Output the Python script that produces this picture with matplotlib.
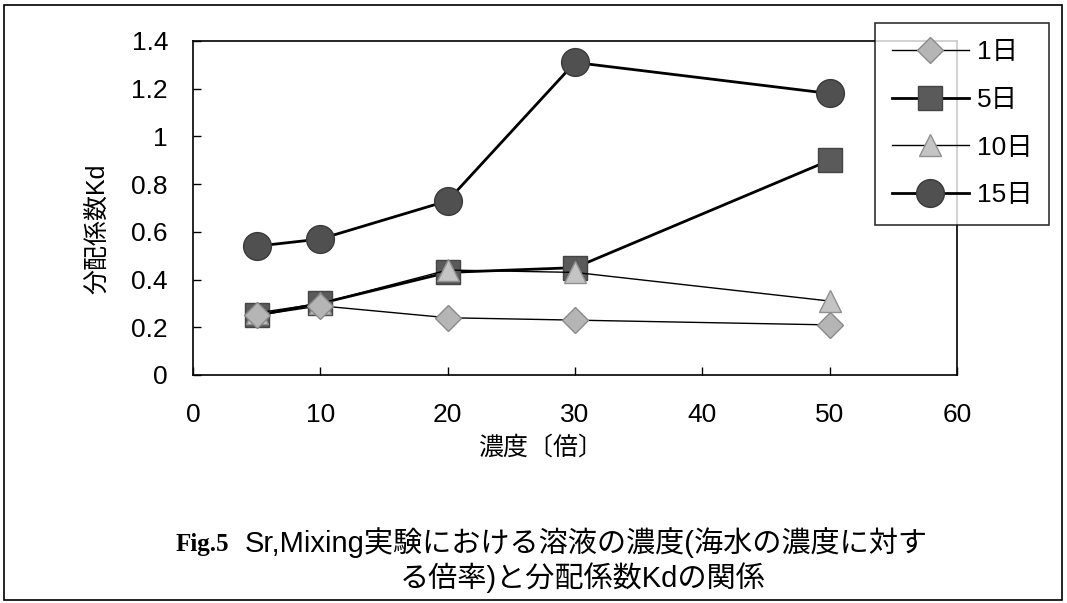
import matplotlib.pyplot as plt
from matplotlib.patches import Rectangle

plt.rcParams['font.family'] = ['Liberation Sans', 'Noto Sans CJK JP']

# 濃度〔倍〕
x = [5, 10, 20, 30, 50]
# 分配係数Kd
kd_1 = [0.25, 0.29, 0.24, 0.23, 0.21]
kd_5 = [0.25, 0.30, 0.43, 0.45, 0.90]
kd_10 = [0.26, 0.30, 0.44, 0.43, 0.31]
kd_15 = [0.54, 0.57, 0.73, 1.31, 1.18]
labels = ['1日', '5日', '10日', '15日']

W, H = 1067, 603
fig = plt.figure(figsize=(W / 100, H / 100), dpi=100)
ax = fig.add_axes([193 / W, 1 - 375 / H, (957 - 193) / W, (375 - 41) / H])

ax.plot(x, kd_1, color='black', lw=1.0, marker='D', ms=13,
        mfc='#b5b5b5', mec='#8a8a8a', label=labels[0], zorder=5)
ax.plot(x, kd_5, color='black', lw=2.0, marker='s', ms=17,
        mfc='#5a5a5a', mec='#444444', label=labels[1], zorder=3)
ax.plot(x, kd_10, color='black', lw=1.0, marker='^', ms=16,
        mfc='#c4c4c4', mec='#909090', label=labels[2], zorder=4)
ax.plot(x, kd_15, color='black', lw=2.0, marker='o', ms=20,
        mfc='#505050', mec='#3a3a3a', label=labels[3], zorder=3)

ax.set_xlim(0, 60)
ax.set_ylim(0, 1.4)
ax.set_xticks(range(0, 61, 10))
ax.set_yticks([0, 0.2, 0.4, 0.6, 0.8, 1.0, 1.2, 1.4])
ax.set_yticklabels(['0', '0.2', '0.4', '0.6', '0.8', '1', '1.2', '1.4'])
ax.tick_params(direction='in', labelsize=19, length=6, width=1)
ax.tick_params(axis='x', pad=20)
ax.tick_params(axis='y', pad=18)
for s in ax.spines.values():
    s.set_linewidth(1.2)

fig.text(541 / W, 1 - 448 / H, '濃度〔倍〕', fontsize=18, ha='center', va='center')
fig.text(97 / W, 1 - 229 / H, '分配係数Kd', fontsize=18, ha='center', va='center',
         rotation=90)

leg = fig.legend(loc='upper left', bbox_to_anchor=(875 / W, 1 - 23 / H),
                 fontsize=19, frameon=True, fancybox=False, edgecolor='black',
                 handlelength=2.9, handletextpad=0.3, labelspacing=0.9,
                 borderpad=0.65, borderaxespad=0)
leg.get_frame().set_linewidth(1.2)
leg.set_zorder(10)

# outer frame
fig.patches.append(Rectangle((4 / W, 3 / H), 1058 / W, 595 / H,
                             transform=fig.transFigure, fill=False,
                             edgecolor='black', lw=1.2))

fig.text(176 / W, 1 - 544 / H, 'Fig.5', family='Liberation Serif',
         fontweight='bold', fontsize=18, va='center', ha='left')
fig.text(245 / W, 1 - 543 / H, 'Sr,Mixing実験における溶液の濃度(海水の濃度に対す',
         fontsize=21, va='center', ha='left')
fig.text(583 / W, 1 - 578 / H, 'る倍率)と分配係数Kdの関係',
         fontsize=21, va='center', ha='center')

fig.savefig('out.png', dpi=100)
